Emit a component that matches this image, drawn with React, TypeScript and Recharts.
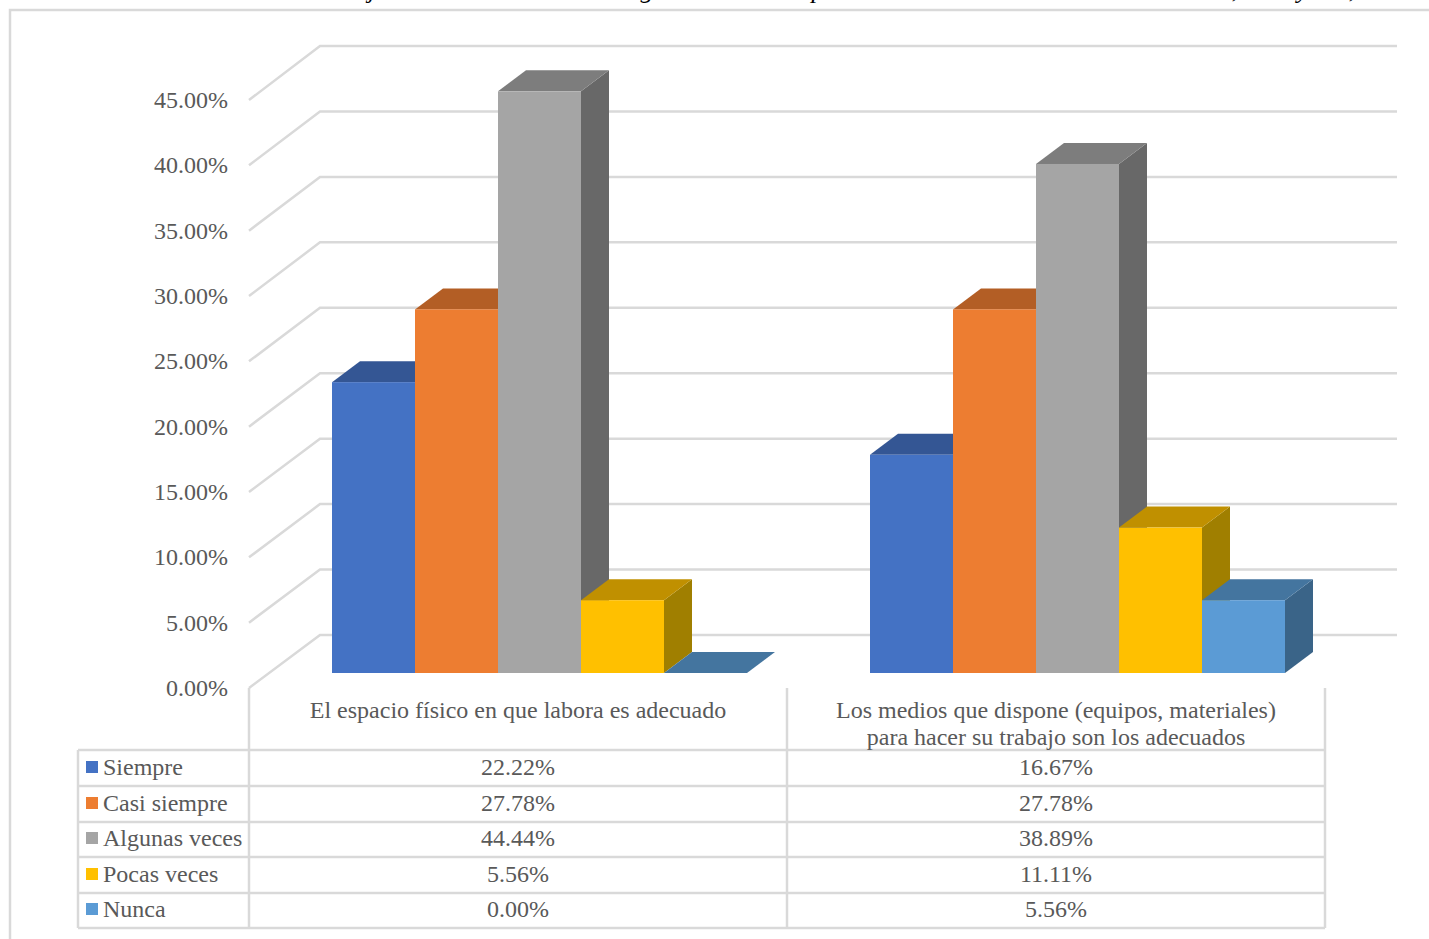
import React from "react";
import { BarChart, Bar, CartesianGrid, XAxis, YAxis } from "recharts";

const categories = [
  ["El espacio físico en que labora es adecuado"],
  ["Los medios que dispone (equipos, materiales)", "para hacer su trabajo son los adecuados"],
];
const categoryKeys = ["espacio", "medios"];

const siempre = [22.22, 16.67];
const casiSiempre = [27.78, 27.78];
const algunasVeces = [44.44, 38.89];
const pocasVeces = [5.56, 11.11];
const nunca = [0, 5.56];

const seriesNames = ["Siempre", "Casi siempre", "Algunas veces", "Pocas veces", "Nunca"];
const seriesValues = [siempre, casiSiempre, algunasVeces, pocasVeces, nunca];
const frontColors = ["#4472c4", "#ed7d31", "#a5a5a5", "#ffc000", "#5b9bd5"];
const topColors = ["#345694", "#b35e25", "#7d7d7d", "#c09000", "#44759f"];
const sideColors = ["#2c4a80", "#9b5220", "#686868", "#a07f00", "#3a6488"];

const yTicks = [0, 5, 10, 15, 20, 25, 30, 35, 40, 45];

const titleFragments: [string, number][] = [
  ["j", 372], ["g", 647], ["p", 818], [",", 1235], ["y", 1303], [",", 1352],
];

const chartData = categoryKeys.map((key, i) => {
  const row: Record<string, string | number> = { key };
  seriesNames.forEach((name, s) => {
    row[name] = seriesValues[s][i];
  });
  return row;
});

// Oblique projection used for the 3D look
const DEPTH_X = 28;
const DEPTH_Y = 21;
const WALL_FRONT_X = 249;
const WALL_BACK_X = 320;
const WALL_RIGHT_X = 1397;
const WALL_BACK_DY = -38;

const TEXT = "#595959";
const LINE = "#d9d9d9";
const LINE_WIDTH = 2.5;
const FONT = "'Liberation Serif', 'Times New Roman', serif";
const FONT_SIZE = 24;

const TABLE_LEFT = 78;
const TABLE_HEADER_TOP = 688;
const TABLE_COLUMNS = [249, 787, 1325];
const TABLE_ROWS = [750, 786, 822, 857, 893, 928];
const ROW_BASELINES = [775, 811, 846, 882, 917];
const BAND_TO_COLUMN_SHIFT = -21.5;
const PLOT_BOTTOM = 673;
const PLOT_HEIGHT = 589;

const formatPct = (v: number) => `${v.toFixed(2)}%`;

// The front edge of the floor sits slightly lower than the bar baseline,
// and its spacing is a touch tighter than the back wall's.
const frontEdgeY = (y: number) => y + 15 + (PLOT_BOTTOM - y) / PLOT_HEIGHT;

function makeBar(seriesIndex: number) {
  return function Box3D(props: any) {
    const { x, y, width, height } = props;
    const bottom = y + height;
    const right = x + width;
    return (
      <g>
        <polygon
          points={`${right},${y} ${right + DEPTH_X},${y - DEPTH_Y} ${right + DEPTH_X},${bottom - DEPTH_Y} ${right},${bottom}`}
          fill={sideColors[seriesIndex]}
        />
        <polygon
          points={`${x},${y} ${x + DEPTH_X},${y - DEPTH_Y} ${right + DEPTH_X},${y - DEPTH_Y} ${right},${y}`}
          fill={topColors[seriesIndex]}
        />
        <rect x={x} y={y} width={width} height={height} fill={frontColors[seriesIndex]} />
      </g>
    );
  };
}

// Floor-to-wall gridline for one value, drawn behind the bars
function WallLine(props: any) {
  const y = props.y1;
  return (
    <polyline
      key={`wall-${y}`}
      points={`${WALL_FRONT_X},${frontEdgeY(y)} ${WALL_BACK_X},${y + WALL_BACK_DY} ${WALL_RIGHT_X},${y + WALL_BACK_DY}`}
      fill="none"
      stroke={LINE}
      strokeWidth={LINE_WIDTH}
    />
  );
}

function WallTick(props: any) {
  const { y, payload } = props;
  return (
    <text x={228} y={frontEdgeY(y) + 8} textAnchor="end" fill={TEXT} fontFamily={FONT} fontSize={FONT_SIZE}>
      {formatPct(payload.value)}
    </text>
  );
}

// Category header and the column of table values under it
function CategoryTick(props: any) {
  const { x, index } = props;
  const cx = x + BAND_TO_COLUMN_SHIFT;
  return (
    <g fontFamily={FONT} fontSize={FONT_SIZE} fill={TEXT} textAnchor="middle">
      {categories[index].map((line, i) => (
        <text key={line} x={cx} y={718 + i * 27}>
          {line}
        </text>
      ))}
      {seriesValues.map((values, s) => (
        <text key={seriesNames[s]} x={cx} y={ROW_BASELINES[s]}>
          {formatPct(values[index])}
        </text>
      ))}
    </g>
  );
}

function TableFrame() {
  return (
    <g>
      {TABLE_ROWS.map((y) => (
        <line key={y} x1={TABLE_LEFT} x2={TABLE_COLUMNS[2]} y1={y} y2={y} stroke={LINE} strokeWidth={LINE_WIDTH} />
      ))}
      <line x1={TABLE_LEFT} x2={TABLE_LEFT} y1={TABLE_ROWS[0]} y2={TABLE_ROWS[5]} stroke={LINE} strokeWidth={LINE_WIDTH} />
      {TABLE_COLUMNS.map((x) => (
        <line key={x} x1={x} x2={x} y1={TABLE_HEADER_TOP} y2={TABLE_ROWS[5]} stroke={LINE} strokeWidth={LINE_WIDTH} />
      ))}
      {seriesNames.map((name, s) => (
        <g key={name}>
          <rect x={86} y={ROW_BASELINES[s] - 14} width={12} height={12} fill={frontColors[s]} />
          <text x={103} y={ROW_BASELINES[s]} fontFamily={FONT} fontSize={FONT_SIZE} fill={TEXT}>
            {name}
          </text>
        </g>
      ))}
    </g>
  );
}

function PageFrame() {
  return (
    <g>
      <polyline points="10,939 10,10 1429,10" fill="none" stroke={LINE} strokeWidth={LINE_WIDTH} />
      {titleFragments.map(([glyph, x]) => (
        <text key={x} x={x} y={-2} textAnchor="middle" fontFamily={FONT} fontStyle="italic" fontSize={26} fill="#000">
          {glyph}
        </text>
      ))}
    </g>
  );
}

export default function App() {
  return (
    <div style={{ position: "absolute", left: 0, top: 0, width: 1429, height: 939, overflow: "hidden", background: "#fff" }}>
      <BarChart
        width={1429}
        height={939}
        data={chartData}
        margin={{ left: 269.5, right: 82.5, top: 84, bottom: 265 }}
        barCategoryGap={61.5}
        barGap={0}
      >
        <PageFrame />
        <TableFrame />
        <CartesianGrid vertical={false} horizontalValues={yTicks} horizontal={WallLine} />
        <YAxis
          width={1}
          domain={[0, 45]}
          ticks={yTicks}
          interval={0}
          axisLine={false}
          tickLine={false}
          tick={WallTick}
        />
        <XAxis
          dataKey="key"
          height={1}
          axisLine={false}
          tickLine={false}
          interval={0}
          tick={CategoryTick}
        />
        {seriesNames.map((name, s) => (
          <Bar key={name} dataKey={name} isAnimationActive={false} shape={makeBar(s)} />
        ))}
      </BarChart>
    </div>
  );
}
